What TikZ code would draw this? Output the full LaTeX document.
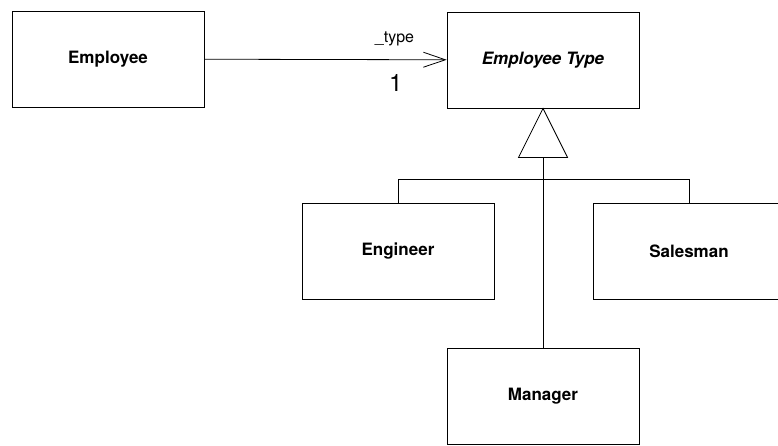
\documentclass[tikz,border=0pt]{standalone}
\usepackage{fontspec}
\setmainfont{TeX Gyre Heros}
\usetikzlibrary{arrows.meta,positioning}

\begin{document}
\begin{tikzpicture}[x=1pt,y=-1pt,line width=0.8pt,
    class/.style={draw, minimum width=192pt, minimum height=96pt,
      font=\fontsize{17}{20}\selectfont\bfseries},
    role/.style={font=\fontsize{16}{19}\selectfont, inner sep=1pt},
    mult/.style={font=\fontsize{24}{28}\selectfont, inner sep=1pt}]
        \useasboundingbox (0,0) rectangle (778,445);
        % Classes
        \node[class]                         (employee) at (108,59)  {Employee};
        \node[class, font=\fontsize{17}{20}\selectfont\bfseries\itshape]
                                             (emptype)  at (543,60)  {Employee Type};
        \node[class]                         (engineer) at (398,251) {Engineer};
        \node[class]                         (salesman) at (689,251) {Salesman};
        \node[class]                         (manager)  at (543,396) {Manager};
        % Association
        \draw[-{Straight Barb[length=22pt,width=15pt]}] (employee) --
            node[role, pos=0.785, above=12pt] {\_type}
            node[mult, pos=0.79, below=13pt] {1} (emptype);
        % Generalisation
        \draw (emptype.south) -- ++(-24.5,49) -- ++(49,0) -- cycle;
        \coordinate (gen) at ([yshift=-49pt]emptype.south);
        \draw (gen) -- (manager.north);
        \draw (engineer.north) -- ++(0,-23) -| (salesman.north);
    \end{tikzpicture}
\end{document}
